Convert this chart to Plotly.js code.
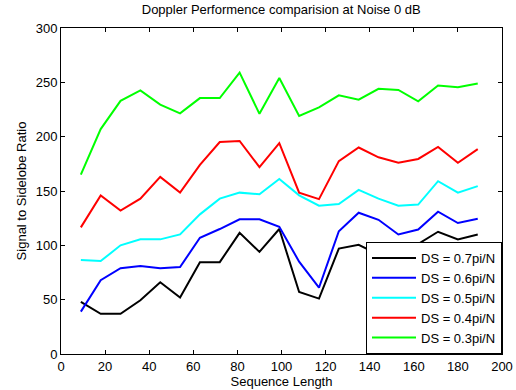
<!DOCTYPE html>
<html>
<head>
<meta charset="utf-8">
<script src="https://cdn.plot.ly/plotly-3.0.1.min.js"></script>
<style>html,body{margin:0;padding:0;background:#fff;}#chart{width:516px;height:390px;}</style>
</head>
<body>
<div id="chart"></div>
<script>
var seqLength = [9, 18, 27, 36, 45, 54, 63, 72, 81, 90, 99, 108, 117, 126, 135, 144, 153, 162, 171, 180, 189];
var ds07 = [48, 37, 37, 49.5, 66, 52, 84.5, 84.5, 111.5, 94, 115, 57, 51, 97, 100.5, 91.5, 90, 101, 112.5, 105.5, 110];
var ds06 = [39, 68, 79, 81, 79, 80, 107, 115, 124, 124, 117, 85, 61, 113, 130, 123.5, 110, 114.5, 131, 120.5, 124.5];
var ds05 = [86.5, 85.5, 100, 105.5, 105.5, 110, 128.5, 143, 148.5, 147, 161, 146, 136.5, 138, 151, 143, 136.5, 137.5, 159, 148.5, 154.5];
var ds04 = [116.5, 146, 132, 143, 163, 148.5, 174, 195, 196, 172, 194, 148.5, 142.5, 177.5, 190, 181, 176, 179.5, 190.5, 176, 188.5];
var ds03 = [165, 207, 233, 242.5, 229.5, 221.5, 235.5, 235.5, 259, 221, 254, 219, 227, 238, 234, 244, 243, 232.5, 247, 245.5, 249];
var seriesNames = ['DS = 0.7pi/N', 'DS = 0.6pi/N', 'DS = 0.5pi/N', 'DS = 0.4pi/N', 'DS = 0.3pi/N'];
var seriesColors = ['#000000', '#0000ff', '#00ffff', '#ff0000', '#00ff00'];
var seriesValues = [ds07, ds06, ds05, ds04, ds03];
var xTicks = [0, 20, 40, 60, 80, 100, 120, 140, 160, 180, 200];
var yTicks = [0, 50, 100, 150, 200, 250, 300];

var traces = seriesValues.map(function (vals, i) {
  return {
    x: seqLength, y: vals, type: 'scatter', mode: 'lines',
    name: seriesNames[i], line: {color: seriesColors[i], width: 2}
  };
});

var fam = 'Liberation Sans, Arial, sans-serif';
var f13 = {family: fam, size: 13, color: '#000'};
var layout = {
  width: 516, height: 390,
  margin: {l: 61, r: 14, t: 28, b: 36},
  paper_bgcolor: '#fff', plot_bgcolor: '#fff',
  font: f13,
  title: {text: 'Doppler Performence comparision at Noise 0 dB', font: f13, x: 0.545, xanchor: 'center', y: 0.988, yanchor: 'top'},
  xaxis: {
    range: [0, 200], tickvals: xTicks, ticktext: xTicks.map(String),
    ticks: 'inside', ticklen: 4, tickcolor: '#000', showline: true, linecolor: '#000', linewidth: 1,
    mirror: 'ticks', showgrid: false, zeroline: false,
    tickfont: f13,
    title: {text: 'Sequence Length', font: f13, standoff: 2}
  },
  yaxis: {
    range: [0, 300], tickvals: yTicks, ticktext: yTicks.map(String),
    ticks: 'inside', ticklen: 4, tickcolor: '#000', showline: true, linecolor: '#000', linewidth: 1,
    mirror: 'ticks', showgrid: false, zeroline: false,
    tickfont: f13,
    title: {text: 'Signal to Sidelobe Ratio', font: f13, standoff: 6}
  },
  showlegend: true,
  legend: {
    x: 1, y: 0, xanchor: 'right', yanchor: 'bottom',
    bgcolor: '#fff', bordercolor: '#000', borderwidth: 1,
    font: f13, itemwidth: 44,
    tracegroupgap: 0
  }
};

Plotly.newPlot('chart', traces, layout, {displayModeBar: false, staticPlot: true});
</script>
</body>
</html>
